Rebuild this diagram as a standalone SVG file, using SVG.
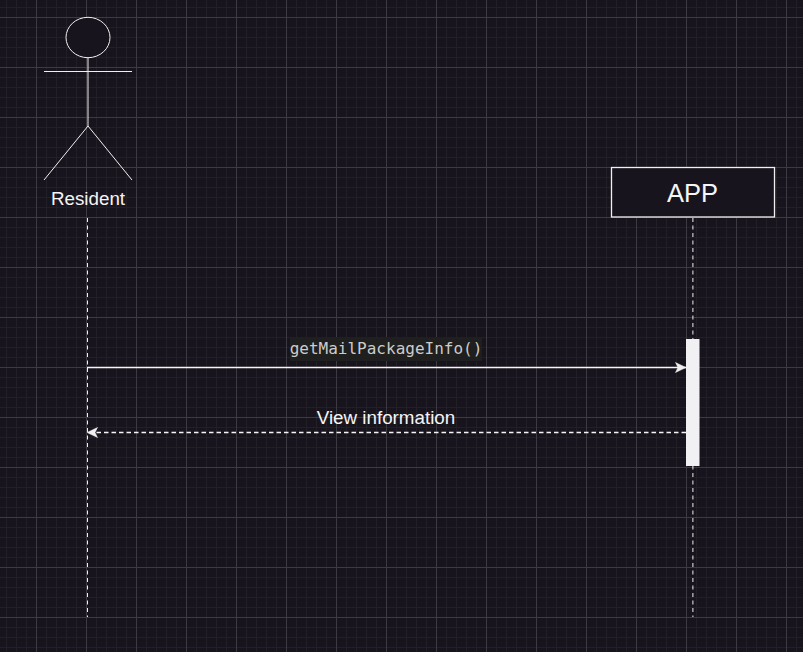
<svg xmlns="http://www.w3.org/2000/svg" width="803" height="652" viewBox="0 0 803 652">
<defs>
<pattern id="grid" width="50" height="50" patternUnits="userSpaceOnUse">
<path d="M6.5 0V50M16.5 0V50M26.5 0V50M46.5 0V50M0 7.5H50M0 27.5H50M0 37.5H50M0 47.5H50" stroke="#221f27" stroke-width="1" fill="none"/>
<path d="M36.5 0V50M0 17.5H50" stroke="#3d3a42" stroke-width="1" fill="none"/>
</pattern>
<marker id="arrow" markerUnits="userSpaceOnUse" markerWidth="12" markerHeight="12" refX="11" refY="6" orient="auto-start-reverse">
<path d="M0.5 1L11 6L0.5 11L3 6Z" fill="#f0f0f0" stroke="#f0f0f0" stroke-width="0.5"/>
</marker>
</defs>
<style>
.fig{fill:none;stroke:#f0f0f0;stroke-width:1}
.life{fill:none;stroke:#f0f0f0;stroke-width:1;stroke-dasharray:4 3.500}
.msg{fill:none;stroke:#f5f5f5;stroke-width:1.300}
.lab{font-family:"Liberation Sans",Arial,sans-serif;fill:#f5f5f5;text-anchor:middle}
</style>
<rect width="803" height="652" fill="#18141d"/>
<rect width="803" height="652" fill="url(#grid)"/>
<g id="connectors">
<path class="life" d="M87.500 218V617"/>
<path class="life" d="M692.900 218V617"/>
<path class="msg" d="M87 367.500H686" marker-end="url(#arrow)"/>
<path class="msg" d="M686 432.500H87" stroke-dasharray="4.500 3" marker-end="url(#arrow)"/>
</g>
<g id="resident">
<ellipse class="fig" cx="88" cy="37.500" rx="22" ry="20.200" style="fill:#18141d"/>
<path class="fig" d="M88 58V126M44 71.500H132M44 180L88 126L132 180"/>
<text class="lab" x="88" y="204.500" font-size="18.800">Resident</text>
</g>
<g id="app">
<rect x="611.500" y="167.500" width="163" height="49.500" fill="#18141d" stroke="#f0f0f0" stroke-width="1.300"/>
<text class="lab" x="692.500" y="202" font-size="25.500">APP</text>
</g>
<g id="activation">
<rect x="686" y="339" width="13.500" height="127" fill="#f1f1f4"/>
</g>
<g id="label-get">
<rect x="290" y="337" width="192" height="24" fill="#1f1f1f"/>
<text x="386" y="354" font-size="16" text-anchor="middle" fill="#cccccc" font-family="'DejaVu Sans Mono','Liberation Mono',monospace">getMailPackageInfo()</text>
</g>
<g id="label-view">
<text class="lab" x="386" y="423.500" font-size="18.800">View information</text>
</g>
</svg>
